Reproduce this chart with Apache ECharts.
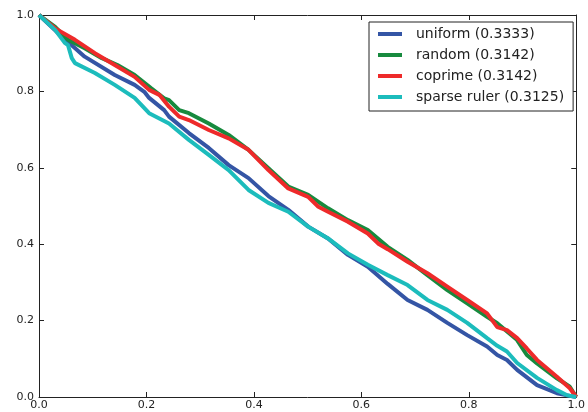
<!DOCTYPE html>
<html>
<head>
<meta charset="utf-8">
<script src="https://cdn.jsdelivr.net/npm/echarts@6/dist/echarts.min.js"></script>
<style>html,body{margin:0;padding:0;background:#fff;}#c{width:588px;height:412px;}</style>
</head>
<body>
<div id="c"></div>
<script>
// Series names (legend labels)
var seriesNames = ['uniform (0.3333)', 'random (0.3142)', 'coprime (0.3142)', 'sparse ruler (0.3125)'];
var seriesColors = ['#3455a5', '#178a3e', '#ee2a2a', '#1cbcbc'];

// Axis ticks
var xTicks = [0.0, 0.2, 0.4, 0.6, 0.8, 1.0];
var yTicks = [0.0, 0.2, 0.4, 0.6, 0.8, 1.0];

// Curve values: [x, y]
var uniformData = [
  [0.000,1.000],[0.039,0.948],[0.085,0.891],[0.141,0.843],[0.178,0.817],[0.196,0.799],
  [0.205,0.783],[0.233,0.751],[0.242,0.734],[0.279,0.691],[0.316,0.652],[0.353,0.607],
  [0.390,0.573],[0.427,0.526],[0.464,0.490],[0.501,0.446],[0.538,0.415],[0.575,0.372],
  [0.612,0.341],[0.649,0.296],[0.686,0.254],[0.723,0.228],[0.760,0.194],[0.797,0.162],
  [0.834,0.132],[0.853,0.110],[0.871,0.097],[0.890,0.071],[0.927,0.031],[0.964,0.010],
  [0.988,0.003],[1.000,0.000]
];
var randomData = [
  [0.000,1.000],[0.030,0.969],[0.054,0.935],[0.085,0.913],[0.117,0.887],[0.146,0.869],
  [0.178,0.843],[0.209,0.808],[0.233,0.782],[0.242,0.777],[0.261,0.751],[0.279,0.743],
  [0.316,0.716],[0.353,0.686],[0.390,0.647],[0.427,0.599],[0.464,0.551],[0.501,0.529],
  [0.538,0.494],[0.575,0.463],[0.612,0.437],[0.649,0.393],[0.686,0.359],[0.723,0.319],
  [0.760,0.280],[0.797,0.245],[0.834,0.210],[0.853,0.193],[0.890,0.149],[0.908,0.110],
  [0.927,0.088],[0.964,0.049],[0.988,0.027],[1.000,0.000]
];
var coprimeData = [
  [0.000,1.000],[0.030,0.965],[0.067,0.935],[0.104,0.900],[0.141,0.869],[0.178,0.838],
  [0.205,0.804],[0.224,0.791],[0.242,0.760],[0.261,0.734],[0.279,0.725],[0.316,0.699],
  [0.353,0.677],[0.390,0.647],[0.427,0.594],[0.464,0.546],[0.501,0.524],[0.520,0.498],
  [0.538,0.485],[0.575,0.459],[0.612,0.428],[0.631,0.402],[0.649,0.387],[0.686,0.354],
  [0.723,0.324],[0.760,0.289],[0.797,0.254],[0.834,0.219],[0.853,0.183],[0.871,0.175],
  [0.890,0.154],[0.908,0.127],[0.927,0.097],[0.964,0.053],[0.988,0.023],[1.000,0.000]
];
var sparseRulerData = [
  [0.000,1.000],[0.030,0.961],[0.048,0.927],[0.054,0.921],[0.061,0.887],[0.067,0.874],
  [0.104,0.848],[0.141,0.817],[0.178,0.783],[0.205,0.743],[0.242,0.716],[0.279,0.673],
  [0.316,0.634],[0.353,0.594],[0.390,0.542],[0.427,0.508],[0.464,0.485],[0.501,0.446],
  [0.538,0.415],[0.575,0.376],[0.612,0.346],[0.649,0.319],[0.686,0.293],[0.723,0.254],
  [0.760,0.228],[0.797,0.194],[0.834,0.154],[0.853,0.134],[0.871,0.119],[0.890,0.089],
  [0.927,0.050],[0.964,0.018],[0.982,0.005],[1.000,0.000]
];
var allData = [uniformData, randomData, coprimeData, sparseRulerData];

var chart = echarts.init(document.getElementById('c'), null, {renderer: 'canvas'});
var axisColor = '#222';
var fontFam = 'DejaVu Sans';
function fmt(v) { return v.toFixed(1); }

function mkX(pos, showLabel) {
  return {
    type: 'value', position: pos, min: 0, max: 1, interval: 0.2,
    axisLine: {show: true, onZero: false, lineStyle: {color: axisColor, width: 1}},
    axisTick: {show: true, inside: true, length: 5, lineStyle: {color: axisColor}},
    axisLabel: {show: showLabel, formatter: fmt, margin: 3, color: '#222', fontSize: 11, fontFamily: fontFam, showMaxLabel: true, showMinLabel: true},
    splitLine: {show: false}
  };
}
function mkY(pos, showLabel) {
  return {
    type: 'value', position: pos, min: 0, max: 1, interval: 0.2,
    axisLine: {show: true, onZero: false, lineStyle: {color: axisColor, width: 1}},
    axisTick: {show: true, inside: true, length: 5, lineStyle: {color: axisColor}},
    axisLabel: {show: showLabel, formatter: fmt, margin: 5, color: '#222', fontSize: 11, fontFamily: fontFam, showMaxLabel: true, showMinLabel: true},
    splitLine: {show: false}
  };
}

var series = seriesNames.map(function (n, i) {
  return {
    name: n, type: 'line', xAxisIndex: 0, yAxisIndex: 0,
    data: allData[i], symbol: 'none', smooth: false,
    lineStyle: {color: seriesColors[i], width: 4},
    itemStyle: {color: seriesColors[i]},
    z: 2 + i
  };
});

chart.setOption({
  animation: false,
  backgroundColor: '#fff',
  grid: {left: 39, right: 8, top: 15, bottom: 15, containLabel: false},
  xAxis: [mkX('bottom', true), mkX('top', false)],
  yAxis: [mkY('left', true), mkY('right', false)],
  legend: {
    data: seriesNames,
    orient: 'vertical',
    left: 369, top: 22,
    padding: [5, 9, 7, 9],
    itemGap: 7,
    itemWidth: 24, itemHeight: 4,
    icon: 'rect',
    borderColor: '#222', borderWidth: 1, borderRadius: 0,
    backgroundColor: '#fff',
    textStyle: {fontSize: 14, fontFamily: fontFam, color: '#222', lineHeight: 14, padding: [0, 0, 0, 9]}
  },
  series: series
});
</script>
</body>
</html>
